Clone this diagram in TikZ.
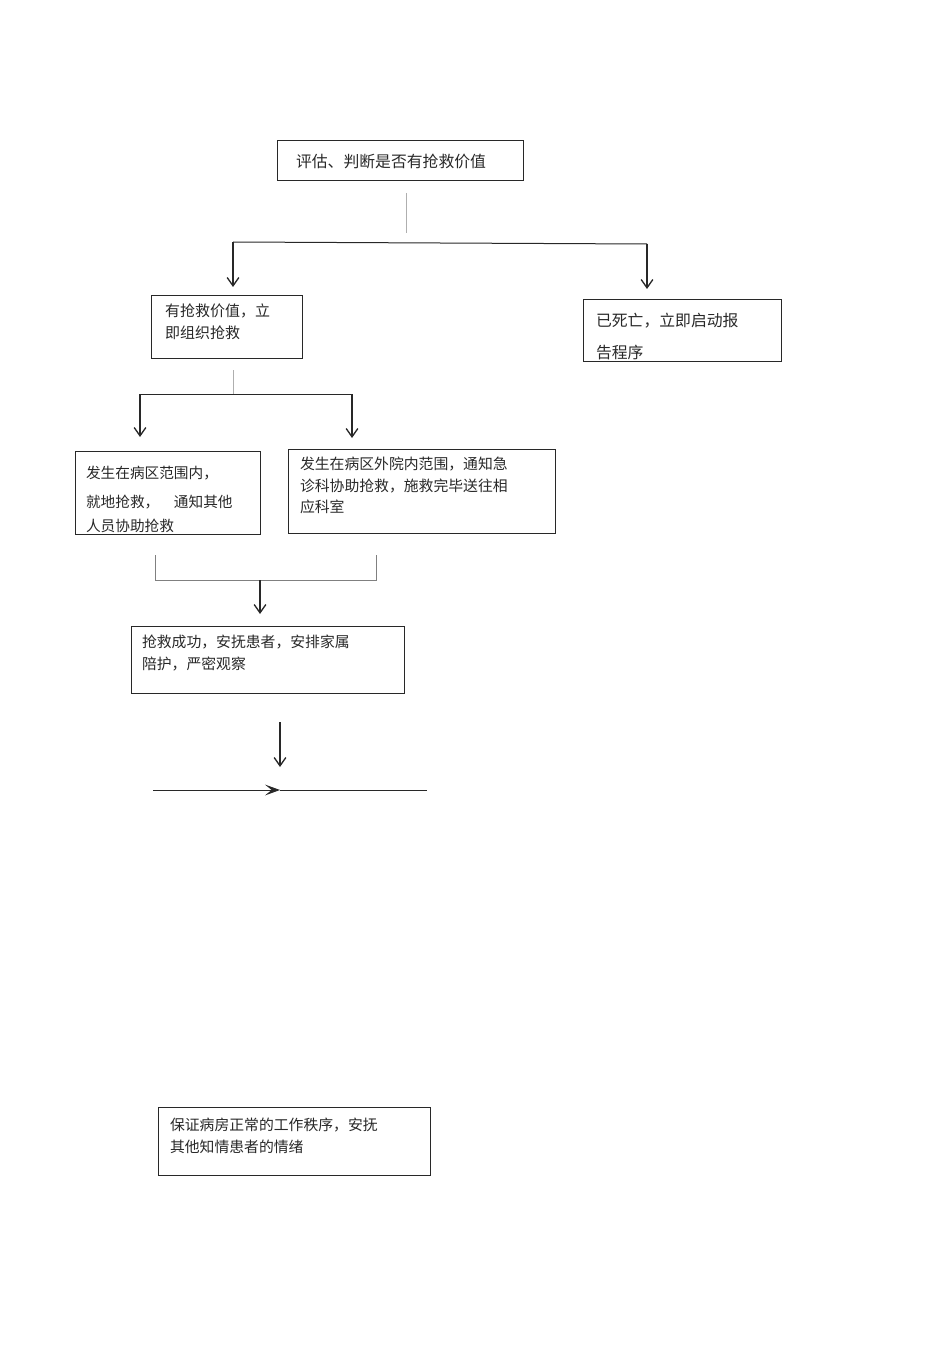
\documentclass[tikz,border=0pt]{standalone}
\usepackage{fontspec}
\setmainfont{Noto Sans CJK SC}
\usetikzlibrary{arrows.meta}
\definecolor{linegray}{RGB}{175,175,175}
\definecolor{inkgray}{RGB}{40,40,40}

\begin{document}
\begin{tikzpicture}[x=0.6pt, y=-0.6pt,
        box/.style={draw=inkgray, line width=0.6pt, anchor=north west, align=left, inner ysep=0pt, outer sep=0pt, text=inkgray},
        flow/.style={line width=0.8pt, inkgray, -{Straight Barb[length=5pt, width=7pt]}},
        link/.style={line width=0.6pt, inkgray},
        faint/.style={line width=0.6pt, linegray}]
        \useasboundingbox (0,0) rectangle (950,1345);

        % Boxes
        \node[box, inner xsep=11.4pt, text width=124.8pt, text height=16.2pt, text depth=7.8pt, font=\fontsize{9.5}{13}\selectfont] (judge) at (277,141) {评估、判断是否有抢救价值};
        \node[box, inner xsep=8.4pt, text width=73.8pt, text height=12.4pt, text depth=24.8pt, font=\fontsize{9}{13.2}\selectfont] (alive) at (151,296) {有抢救价值，立\\即组织抢救};
        \node[box, inner xsep=7.8pt, text width=103.2pt, text height=16.8pt, text depth=20.4pt, font=\fontsize{9.5}{18.6}\selectfont] (dead) at (583,299) {已死亡，立即启动报\\告程序};
        \node[box, inner xsep=6.6pt, text width=97.8pt, text height=16.5pt, text depth=33.3pt, font=\fontsize{8.8}{14.4}\selectfont] (ward) at (75,451) {发生在病区范围内，\\[3pt]就地抢救，　通知其他\\人员协助抢救};
        \node[box, inner xsep=7.2pt, text width=145.8pt, text height=12.4pt, text depth=38pt, font=\fontsize{8.9}{12.9}\selectfont] (outside) at (288,449) {发生在病区外院内范围，通知急\\诊科协助抢救，施救完毕送往相\\应科室};
        \node[box, inner xsep=6.6pt, text width=150.6pt, text height=13pt, text depth=27.2pt, font=\fontsize{8.9}{13.2}\selectfont] (success) at (131,626) {抢救成功，安抚患者，安排家属\\陪护，严密观察};
        \node[box, inner xsep=7.2pt, text width=148.8pt, text height=14.2pt, text depth=26.6pt, font=\fontsize{8.9}{13.2}\selectfont] (order) at (158,1107) {保证病房正常的工作秩序，安抚\\其他知情患者的情绪};

        % First fork
        \coordinate (judgeOut) at (406,193);
        \coordinate (judgeFork) at (406,233);
        \coordinate (forkL) at (233,242);
        \coordinate (forkR) at (647,244);
        \coordinate (aliveIn) at (233,287);
        \coordinate (deadIn) at (647,289);
        \draw[faint] (judgeOut) -- (judgeFork);
        \draw[link] (forkL) -- (forkR);
        \draw[flow] (forkL) -- (aliveIn);
        \draw[flow] (forkR) -- (deadIn);

        % Second fork
        \coordinate (aliveOut) at (233,370);
        \coordinate (aliveFork) at (233,394);
        \coordinate (wardFork) at (140,394);
        \coordinate (outsideFork) at (352,394);
        \coordinate (wardIn) at (140,437);
        \coordinate (outsideIn) at (352,438);
        \draw[faint] (aliveOut) -- (aliveFork);
        \draw[link] (wardFork) -- (outsideFork);
        \draw[flow] (wardFork) -- (wardIn);
        \draw[flow] (outsideFork) -- (outsideIn);

        % Merge
        \coordinate (wardOut) at (155,555);
        \coordinate (outsideOut) at (376,555);
        \coordinate (mergeL) at (155,580);
        \coordinate (mergeR) at (376,580);
        \coordinate (mergeMid) at (260,580);
        \coordinate (successIn) at (260,614);
        \draw[link, draw=gray] (wardOut) -- (mergeL) -- (mergeR) -- (outsideOut);
        \draw[flow] (mergeMid) -- (successIn);

        % Lower arrows
        \coordinate (successOut) at (280,722);
        \coordinate (baseIn) at (280,767);
        \coordinate (baseL) at (153,790);
        \coordinate (baseMid) at (280,790);
        \coordinate (baseR) at (427,790);
        \draw[flow] (successOut) -- (baseIn);
        \draw[link, -{Stealth[length=9pt, width=6.5pt, inset=4pt]}] (baseL) -- (baseMid);
        \draw[link] (baseMid) -- (baseR);
\end{tikzpicture}
\end{document}
